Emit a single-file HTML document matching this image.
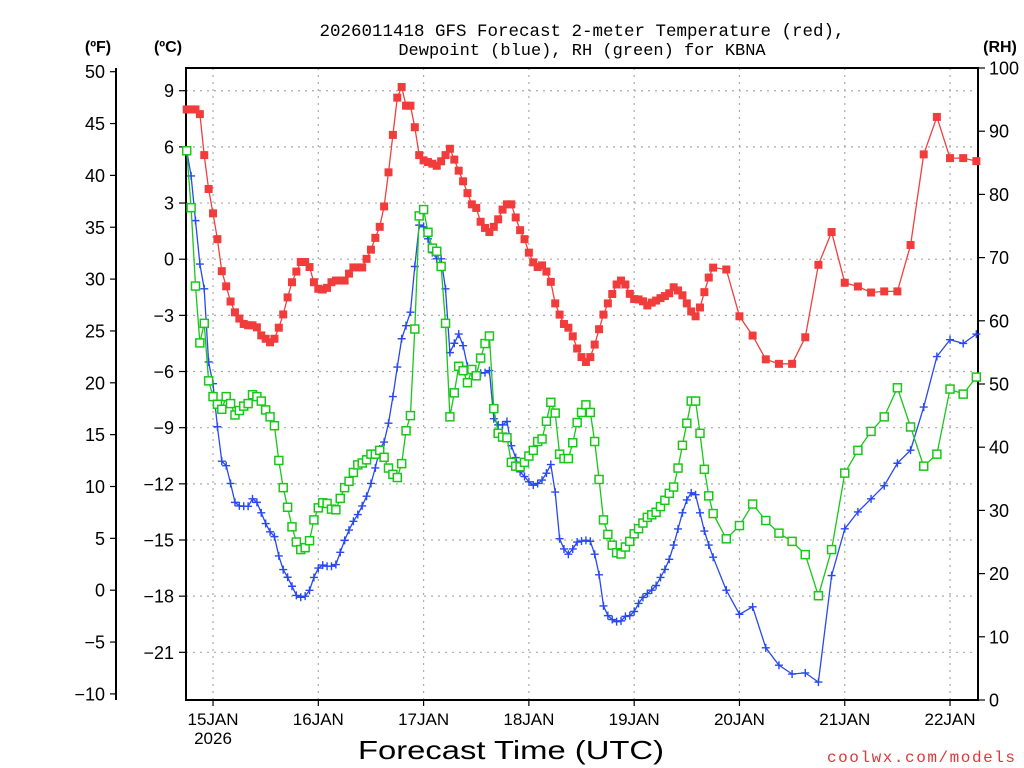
<!DOCTYPE html>
<html><head><meta charset="utf-8"><title>GFS Forecast KBNA</title>
<style>
html,body{margin:0;padding:0;background:#fff;}
svg{display:block;}
text{font-family:"Liberation Sans",sans-serif;fill:#000;}
.mono{font-family:"Liberation Mono",monospace;}
</style></head>
<body>
<svg id="chart" width="1024" height="768" viewBox="0 0 1024 768" xmlns="http://www.w3.org/2000/svg">
  <text class="mono" x="582" y="36" font-size="17.5" text-anchor="middle">2026011418 GFS Forecast 2-meter Temperature (red),</text>
  <text class="mono" x="582" y="55" font-size="17" text-anchor="middle">Dewpoint (blue), RH (green) for KBNA</text>
  <text x="98" y="52" font-size="16" font-weight="bold" text-anchor="middle">(ºF)</text>
  <text x="168" y="52" font-size="16" font-weight="bold" text-anchor="middle">(ºC)</text>
  <text x="1000" y="52" font-size="16" font-weight="bold" text-anchor="middle">(RH)</text>
  <text x="511" y="759" font-size="26" text-anchor="middle" textLength="306" lengthAdjust="spacingAndGlyphs">Forecast Time (UTC)</text>
  <text class="mono" x="1015" y="762" font-size="16" text-anchor="end" fill="#e33" style="fill:#e03838" textLength="188" lengthAdjust="spacing">coolwx.com/models</text>
  <g id="grid"></g>
  <g id="axes"></g>
  <g id="series"></g>
</svg>
<script>
const hours = [0,1,2,3,4,5,6,7,8,9,10,11,12,13,14,15,16,17,18,19,20,21,22,23,24,25,26,27,28,29,30,31,32,33,34,35,36,37,38,39,40,41,42,43,44,45,46,47,48,49,50,51,52,53,54,55,56,57,58,59,60,61,62,63,64,65,66,67,68,69,70,71,72,73,74,75,76,77,78,79,80,81,82,83,84,85,86,87,88,89,90,91,92,93,94,95,96,97,98,99,100,101,102,103,104,105,106,107,108,109,110,111,112,113,114,115,116,117,118,119,120,123,126,129,132,135,138,141,144,147,150,153,156,159,162,165,168,171,174,177,180];
const tempC = [8.0,8.0,8.0,7.75,5.56,3.75,2.45,1.07,-0.64,-1.45,
-2.26,-2.84,-3.17,-3.46,-3.53,-3.53,-3.64,-4.07,-4.25,-4.44,
-4.25,-3.66,-2.95,-2.04,-1.23,-0.66,-0.15,-0.15,-0.42,-1.23,
-1.58,-1.62,-1.53,-1.23,-1.14,-1.14,-1.14,-0.77,-0.44,-0.44,
-0.44,0.02,0.51,1.14,1.73,2.82,4.64,6.64,8.63,9.2,
8.2,8.2,7.05,5.56,5.28,5.19,5.1,4.99,5.23,5.56,
5.9,5.32,4.73,4.16,3.53,2.93,2.74,2.0,1.67,1.45,
1.73,2.13,2.65,2.93,2.93,2.23,1.55,1.07,0.35,-0.17,
-0.42,-0.33,-0.66,-1.21,-2.36,-2.96,-3.46,-3.66,-4.12,-4.77,
-5.23,-5.49,-5.23,-4.56,-3.74,-2.96,-2.36,-1.86,-1.35,-1.14,
-1.35,-1.85,-2.13,-2.15,-2.25,-2.47,-2.32,-2.21,-2.08,-1.97,
-1.82,-1.5,-1.67,-1.93,-2.36,-2.79,-3.05,-2.58,-1.76,-0.98,
-0.45,
-0.55,-3.05,-4.08,-5.35,-5.59,-5.59,-4.17,-0.3,1.45,-1.26,-1.46,-1.78,-1.72,-1.72,0.76,5.6,7.6,5.4,5.4,5.24];
const dewC = [5.8,4.45,2.06,-0.26,-1.58,-5.49,-6.65,-8.95,-10.79,-11.03,
-11.98,-12.99,-13.18,-13.2,-13.2,-12.8,-12.99,-13.55,-14.12,-14.56,
-14.82,-15.85,-16.58,-16.99,-17.47,-17.96,-18.06,-18.0,-17.69,-17.0,
-16.5,-16.34,-16.4,-16.4,-16.31,-15.66,-15.02,-14.47,-14.0,-13.64,
-13.18,-12.66,-11.98,-11.15,-10.14,-9.77,-8.76,-7.34,-5.76,-4.25,
-3.55,-2.83,-0.39,1.82,1.73,1.09,0.35,0.02,0.02,-1.58,
-4.99,-4.49,-4.0,-4.62,-5.72,-6.09,-6.18,-6.09,-6.06,-5.95,
-8.52,-8.85,-8.85,-8.67,-9.96,-10.6,-11.36,-11.61,-11.89,-12.07,
-11.98,-11.8,-11.43,-10.97,-12.44,-14.93,-15.48,-15.76,-15.48,-15.11,
-15.06,-15.02,-15.07,-15.76,-16.86,-18.52,-19.04,-19.25,-19.36,-19.32,
-19.08,-19.04,-18.82,-18.39,-18.07,-17.86,-17.68,-17.43,-17.0,-16.57,
-16.03,-15.27,-14.41,-13.55,-12.86,-12.48,-12.58,-13.55,-14.52,-15.27,
-15.92,
-17.68,-18.97,-18.57,-20.76,-21.69,-22.16,-22.1,-22.59,-16.9,-14.4,-13.5,-12.8,-12.1,-10.9,-10.2,-7.9,-5.2,-4.3,-4.5,-4.0];
const rhPct = [86.9,77.9,65.5,56.5,59.6,50.5,48.0,46.8,46.0,48.0,
46.9,45.1,45.8,46.5,46.9,48.3,48.0,47.3,45.9,44.8,
43.4,37.9,33.6,30.5,27.4,25.0,23.8,24.1,25.2,28.5,
30.4,31.2,31.1,30.2,30.1,31.9,33.6,34.6,36.0,37.2,
37.5,38.0,38.9,38.9,39.5,38.4,36.7,35.7,35.2,37.4,
42.6,45.0,58.7,76.6,77.6,74.0,71.5,71.0,68.6,59.6,
44.8,48.6,52.8,52.1,50.2,52.3,51.3,54.1,56.4,57.6,
46.1,42.2,41.6,41.5,37.6,37.0,36.9,37.6,38.6,39.5,
40.9,41.3,44.1,47.1,45.4,38.9,38.2,38.2,40.7,43.9,
45.5,46.7,45.5,40.9,34.9,28.5,26.2,24.5,23.3,23.1,
24.2,25.1,26.3,27.1,28.0,28.9,29.3,29.7,30.6,31.6,
32.7,33.7,36.7,40.3,43.8,47.3,47.3,42.2,36.5,32.3,
29.5,
25.5,27.6,31.0,28.4,26.4,25.1,23.0,16.5,23.8,35.9,39.5,42.5,44.8,49.4,43.2,37.0,38.9,49.2,48.4,51.1];
const fTicks = [50,45,40,35,30,25,20,15,10,5,0,-5,-10];
const cTicks = [9,6,3,0,-3,-6,-9,-12,-15,-18,-21];
const rhTicks = [100,90,80,70,60,50,40,30,20,10,0];
const dayLabels = ["15JAN","16JAN","17JAN","18JAN","19JAN","20JAN","21JAN","22JAN"];
const dayHours = [6,30,54,78,102,126,150,174];

const NS = "http://www.w3.org/2000/svg";
const L = 186, R = 978, T = 68, B = 700;
function xOf(h){ return 186.7 + h * 4.387; }
function yC(c){ return 259.2 - c * 18.72; }
function yF(f){ return 71.7 + (50 - f) * 10.37; }
function yRH(r){ return 700 - r * 6.32; }
function mk(tag, attrs, parent){
  const e = document.createElementNS(NS, tag);
  for (const k in attrs) e.setAttribute(k, attrs[k]);
  parent.appendChild(e);
  return e;
}
const grid = document.getElementById('grid');
const axes = document.getElementById('axes');
const series = document.getElementById('series');

// grid
cTicks.forEach(c => {
  const g = mk('line', {x1:L, x2:R, y1:yC(c), y2:yC(c), stroke:'#aaa', 'stroke-width':1.2, 'stroke-dasharray':'2,5'}, grid);
  
  
});
dayHours.forEach(h => {
  const g = mk('line', {x1:xOf(h), x2:xOf(h), y1:T, y2:B, stroke:'#aaa', 'stroke-width':1.2, 'stroke-dasharray':'2,5'}, grid);
  
  
});

// frame
const frame = mk('rect', {x:L, y:T, width:R-L, height:B-T, fill:'none', stroke:'#000', 'stroke-width':2}, axes);


const fAxis = mk('line', {x1:116, x2:116, y1:68, y2:700, stroke:'#000', 'stroke-width':2}, axes);



fTicks.forEach(f => {
  const y = yF(f);
  const t = mk('line', {x1:110, x2:116, y1:y, y2:y, stroke:'#000', 'stroke-width':1.2}, axes);
  
  
  const lb = mk('text', {x:105, y:y+6.5, 'font-size':18, 'text-anchor':'end'}, axes);
  lb.textContent = f < 0 ? '\u2212' + Math.abs(f) : String(f);
  
  
});
cTicks.forEach(c => {
  const y = yC(c);
  const t = mk('line', {x1:179, x2:186, y1:y, y2:y, stroke:'#000', 'stroke-width':1.2}, axes);
  
  
  const lb = mk('text', {x:174, y:y+6.5, 'font-size':18, 'text-anchor':'end'}, axes);
  lb.textContent = c < 0 ? '\u2212' + Math.abs(c) : String(c);
  
  
});
rhTicks.forEach(r => {
  const y = yRH(r);
  const t = mk('line', {x1:978, x2:985, y1:y, y2:y, stroke:'#000', 'stroke-width':1.2}, axes);
  
  
  const lb = mk('text', {x:989, y:y+6.5, 'font-size':18, 'text-anchor':'start'}, axes);
  lb.textContent = String(r);
  
  
});
dayHours.forEach((h, i) => {
  const x = xOf(h);
  const t = mk('line', {x1:x, x2:x, y1:700, y2:706, stroke:'#000', 'stroke-width':1.2}, axes);
  
  
  const lb = mk('text', {x:x, y:725, 'font-size':17, 'text-anchor':'middle'}, axes);
  lb.textContent = dayLabels[i];
  
  
});
const yr = mk('text', {x:xOf(6), y:744, 'font-size':17, 'text-anchor':'middle'}, axes);
yr.textContent = '2026';



function pts(vals, yfn){ return vals.map((v,i) => xOf(hours[i]).toFixed(1) + ',' + yfn(v).toFixed(1)).join(' '); }

// temperature (red)
const tl = mk('polyline', {points:pts(tempC, yC), fill:'none', stroke:'#f04040', 'stroke-width':1.3}, series);


tempC.forEach((v,i) => {
  const m = mk('rect', {x:xOf(hours[i])-4, y:yC(v)-4, width:8, height:8, fill:'#f23c3c'}, series);
  
  
});
// dewpoint (blue)
const dl = mk('polyline', {points:pts(dewC, yC), fill:'none', stroke:'#2848f0', 'stroke-width':1.3}, series);


dewC.forEach((v,i) => {
  const x = xOf(hours[i]), y = yC(v);
  const m = mk('path', {d:'M'+(x-4)+','+y+'H'+(x+4)+'M'+x+','+(y-4)+'V'+(y+4), stroke:'#2848f0', 'stroke-width':1.4, fill:'none'}, series);
  
  
});
// RH (green)
const rl = mk('polyline', {points:pts(rhPct, yRH), fill:'none', stroke:'#18c818', 'stroke-width':1.3}, series);


rhPct.forEach((v,i) => {
  const m = mk('rect', {x:xOf(hours[i])-4, y:yRH(v)-4, width:8, height:8, fill:'#fff', stroke:'#18c818', 'stroke-width':1.5}, series);
  
  
});
</script>
</body></html>
